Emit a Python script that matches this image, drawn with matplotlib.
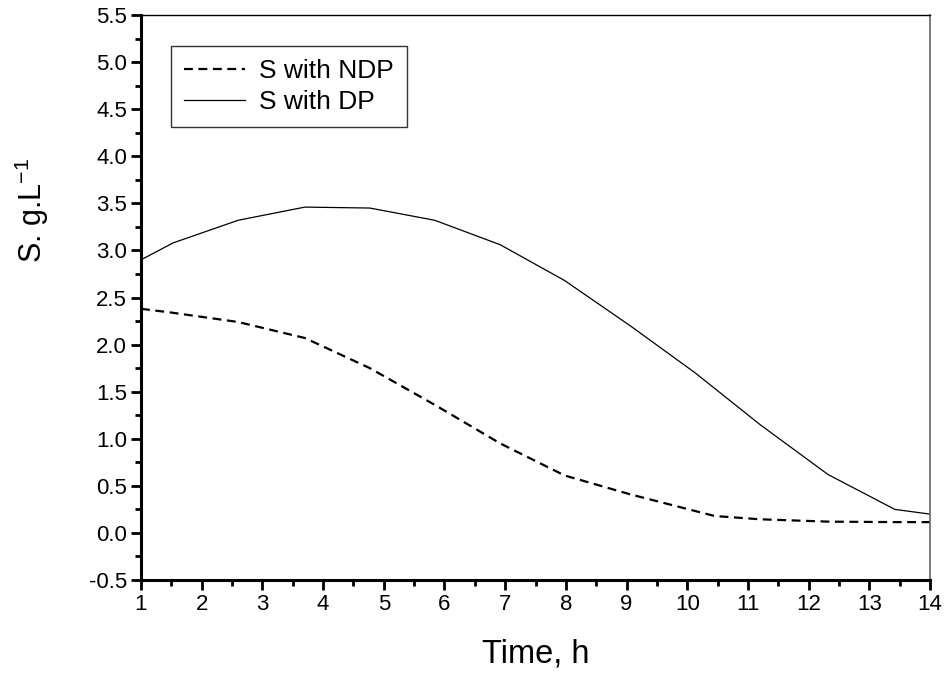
import matplotlib
matplotlib.use("Agg")
import matplotlib.pyplot as plt
from matplotlib.ticker import MultipleLocator

# Data
time_dp = [1.0, 1.53, 2.6, 3.7, 4.77, 5.84, 6.92, 7.98, 9.06, 10.13, 11.2, 12.32, 13.42, 14.0]
s_dp = [2.90, 3.08, 3.32, 3.46, 3.45, 3.32, 3.06, 2.68, 2.20, 1.70, 1.15, 0.62, 0.25, 0.20]

time_ndp = [1.0, 1.5, 2.6, 3.7, 4.77, 5.84, 6.92, 7.98, 9.06, 10.45, 11.2, 12.32, 13.42, 14.0]
s_ndp = [2.38, 2.34, 2.24, 2.07, 1.75, 1.36, 0.95, 0.61, 0.41, 0.18, 0.145, 0.12, 0.115, 0.115]

x_ticks = list(range(1, 15))
y_ticks = [-0.5, 0.0, 0.5, 1.0, 1.5, 2.0, 2.5, 3.0, 3.5, 4.0, 4.5, 5.0, 5.5]

plt.rcParams['font.family'] = ['Liberation Sans', 'DejaVu Sans']

fig = plt.figure(figsize=(9.5, 6.75), dpi=100)
ax = fig.add_axes([0.1484, 0.1407, 0.8306, 0.8371])

ax.plot(time_ndp, s_ndp, color='black', linestyle=(0, (4, 2.5)), linewidth=1.6, label='S with NDP')
ax.plot(time_dp, s_dp, color='black', linestyle='-', linewidth=0.9, label='S with DP')

ax.set_xlim(1, 14)
ax.set_ylim(-0.5, 5.5)
ax.set_xticks(x_ticks)
ax.set_yticks(y_ticks)
ax.set_yticklabels([f"{v:.1f}" for v in y_ticks])
ax.xaxis.set_minor_locator(MultipleLocator(0.5))
ax.yaxis.set_minor_locator(MultipleLocator(0.25))

ax.tick_params(axis='both', which='major', direction='out', length=7, width=2, labelsize=16, pad=3)
ax.tick_params(axis='both', which='minor', direction='out', length=4, width=2)

ax.spines['left'].set_linewidth(2.2)
ax.spines['bottom'].set_linewidth(2.2)
ax.spines['top'].set_linewidth(1.0)
ax.spines['right'].set_linewidth(1.2)
ax.spines['right'].set_color('#666666')

ax.set_xlabel('Time, h', fontsize=23.5, labelpad=17)
ax.set_ylabel(r'S. g.L$^{\mathregular{-1}}$', fontsize=22)
ax.yaxis.set_label_coords(-0.114, 0.655)

leg = ax.legend(loc='upper left', bbox_to_anchor=(0.038, 0.945), fontsize=19,
                fancybox=False, frameon=True, handlelength=2.3, handletextpad=0.55,
                borderpad=0.5, labelspacing=0.25, borderaxespad=0)
leg.get_frame().set_edgecolor('black')
leg.get_frame().set_linewidth(1.0)

plt.savefig("out.png", dpi=100)
plt.close()
